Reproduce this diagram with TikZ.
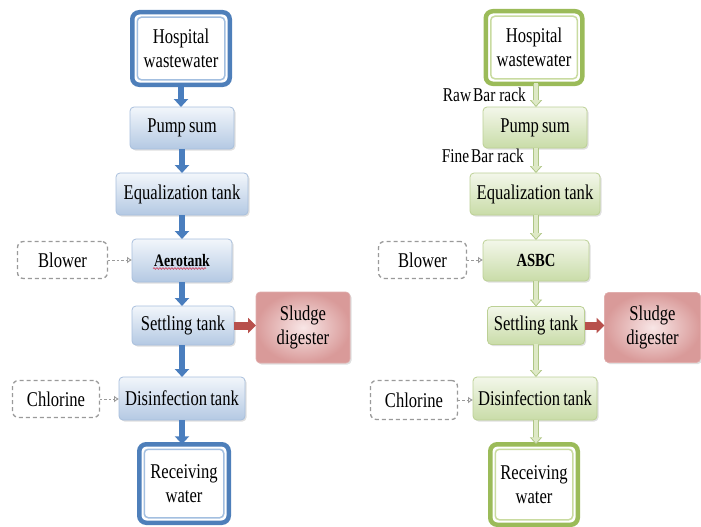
\documentclass[tikz,border=0pt]{standalone}
\usepackage{fontspec}
\setmainfont[FakeStretch=0.79]{Liberation Serif}
\usetikzlibrary{arrows.meta,shadows,calc,decorations.pathmorphing}
\definecolor{bluetop}{HTML}{F2F6FB}
\definecolor{bluebot}{HTML}{B4C9E3}
\definecolor{blueedge}{HTML}{A8BFDC}
\definecolor{bluedark}{HTML}{4E7FBA}
\definecolor{bluelight}{HTML}{A3BFE0}
\definecolor{bluearr}{HTML}{4A7EBE}
\definecolor{greentop}{HTML}{F3F7EA}
\definecolor{greenbot}{HTML}{C9DCA8}
\definecolor{greenedge}{HTML}{BCD095}
\definecolor{greendark}{HTML}{9BBB59}
\definecolor{greenlight}{HTML}{C9DBA0}
\definecolor{greenarrfill}{HTML}{DEE9C6}
\definecolor{greenarredge}{HTML}{AFC685}
\definecolor{sludin}{HTML}{F8E6E6}
\definecolor{sludout}{HTML}{D99A99}
\definecolor{redarr}{HTML}{B8504C}
\definecolor{dashgray}{HTML}{9A9A9A}
\definecolor{squig}{HTML}{D0506A}
\begin{document}
\begin{tikzpicture}[x=1pt,y=-1pt,
  txt/.style={font=\fontsize{21}{24}\selectfont},
  box/.style={txt, rounded corners=4pt, align=center, inner sep=0pt, outer sep=0pt,
    drop shadow={opacity=0.25, shadow xshift=1.5pt, shadow yshift=-1.5pt}},
  bbox/.style={box, draw=blueedge, line width=0.8pt, top color=bluetop, bottom color=bluebot},
  gbox/.style={box, draw=greenedge, line width=0.8pt, top color=greentop, bottom color=greenbot},
  endbox/.style={txt, rounded corners=7pt, align=center, inner sep=0pt, outer sep=0pt,
    line width=4.5pt, fill=white},
  dbox/.style={txt, rounded corners=6pt, align=center, inner sep=0pt, outer sep=0pt,
    draw=dashgray, dash pattern=on 4pt off 3pt, line width=1.3pt, fill=white},
  sbox/.style={box, inner color=sludin, outer color=sludout, draw=sludout!80, line width=0.6pt},
  barrow/.style={bluearr, line width=6pt, -{Triangle[width=14pt,length=8pt]}},
  rarrow/.style={redarr, line width=8pt, -{Triangle[width=15pt,length=8pt]}},
  darrow/.style={dashgray, dash pattern=on 2.5pt off 2pt, line width=0.9pt, -{Latex[open,length=5pt,width=7pt]}},
  lbl/.style={font=\fontsize{19.5}{22}\selectfont, inner sep=0pt}
]
\useasboundingbox (0,0) rectangle (701,527);

% ---------------- left column ----------------
\node[endbox, draw=bluedark, minimum width=97.5, minimum height=72.5] (hospL) at (181,48.5) {Hospital\\wastewater};
\node[bbox, minimum width=104, minimum height=42] (pumpL) at (182,128) {Pump\hspace{3pt}sum};
\node[bbox, minimum width=132, minimum height=42] (eqL) at (182,194) {Equalization tank};
\node[bbox, minimum width=100, minimum height=43, font=\fontsize{17.5}{20}\selectfont\bfseries] (aeroL) at (182,260.5) {Aerotank};
\node[dbox, minimum width=90, minimum height=37] (blowL) at (62.5,260) {Blower};
\node[bbox, minimum width=102, minimum height=39] (setL) at (183,325.5) {Settling tank};
\node[sbox, minimum width=94, minimum height=71] (sludL) at (303,327.5) {Sludge\\digester};
\node[bbox, minimum width=126, minimum height=43] (disL) at (182,398.5) {Disinfection\hspace{-1pt} tank};
\node[dbox, minimum width=87, minimum height=37] (chlL) at (56,399) {Chlorine};
\node[endbox, draw=bluedark, minimum width=89.5, minimum height=78.5] (recL) at (184,483.5) {Receiving\\water};

\draw[bluelight, line width=1.5pt, rounded corners=4pt] ($(hospL.north west)+(5,5)$) rectangle ($(hospL.south east)+(-5,-5)$);
\draw[bluelight, line width=1.5pt, rounded corners=4pt] ($(recL.north west)+(5,5)$) rectangle ($(recL.south east)+(-5,-5)$);
\draw[squig, line width=0.7pt, decorate, decoration={snake, amplitude=0.9pt, segment length=3pt}]
  ($(aeroL.center)+(-29,8)$) -- ($(aeroL.center)+(24,8)$);

\draw[barrow] (hospL.south) -- (hospL.south |- pumpL.north);
\draw[barrow] (pumpL.south) -- (eqL.north);
\draw[barrow] (eqL.south) -- (eqL.south |- aeroL.north);
\draw[barrow] (aeroL.south) -- (aeroL.south |- setL.north);
\draw[barrow] (setL.south -| disL.north) -- (disL.north);
\draw[barrow] (disL.south) -- (disL.south |- recL.north);
\draw[rarrow] (setL.east) -- (setL.east -| sludL.west);
\draw[darrow] (blowL.east) -- (blowL.east -| aeroL.west);
\draw[darrow] (chlL.east) -- (chlL.east -| disL.west);

% ---------------- right column ----------------
\node[endbox, draw=greendark, minimum width=96.5, minimum height=72.5] (hospR) at (534,47.5) {Hospital\\wastewater};
\node[gbox, minimum width=104, minimum height=41] (pumpR) at (535,127.5) {Pump\hspace{3pt}sum};
\node[gbox, minimum width=130, minimum height=42] (eqR) at (535,194) {Equalization tank};
\node[gbox, minimum width=106, minimum height=41, font=\fontsize{18.5}{21}\selectfont\bfseries] (asbcR) at (536,260.5) {ASBC};
\node[dbox, minimum width=88, minimum height=37] (blowR) at (422.5,260) {Blower};
\node[gbox, minimum width=97, minimum height=38] (setR) at (536,325.5) {Settling tank};
\node[sbox, minimum width=96, minimum height=70] (sludR) at (652.5,327.5) {Sludge\\digester};
\node[gbox, minimum width=124, minimum height=43] (disR) at (535,398.5) {Disinfection\hspace{-1pt} tank};
\node[dbox, minimum width=87, minimum height=39] (chlR) at (414,400) {Chlorine};
\node[endbox, draw=greendark, minimum width=87.5, minimum height=80.5] (recR) at (534,484.5) {Receiving\\water};

\draw[greenlight, line width=1.5pt, rounded corners=4pt] ($(hospR.north west)+(5,5)$) rectangle ($(hospR.south east)+(-5,-5)$);
\draw[greenlight, line width=1.5pt, rounded corners=4pt] ($(recR.north west)+(5,5)$) rectangle ($(recR.south east)+(-5,-5)$);

\node[lbl, anchor=east] (rawLbl) at (526,95) {Raw\hspace{2pt}Bar rack};
\node[lbl, anchor=east] (fineLbl) at (524,156) {Fine\hspace{2pt}Bar rack};

\foreach \a/\b in {hospR/pumpR, pumpR/eqR, eqR/asbcR, asbcR/setR, setR/disR, disR/recR}{
  \draw[greenarredge, line width=6pt, -{Triangle[width=12pt,length=7pt]}] (\a.south -| 536,0) -- (\b.north -| 536,0);
  \draw[greenarrfill, line width=4pt, shorten >=1.3pt, -{Triangle[width=9pt,length=5.5pt]}] ($(\a.south -| 536,0)+(0,-0.5)$) -- (\b.north -| 536,0);
}
\draw[rarrow] (setR.east) -- (setR.east -| sludR.west);
\draw[darrow] (blowR.east) -- (blowR.east -| asbcR.west);
\draw[darrow] (chlR.east) -- (chlR.east -| disR.west);
\end{tikzpicture}
\end{document}
